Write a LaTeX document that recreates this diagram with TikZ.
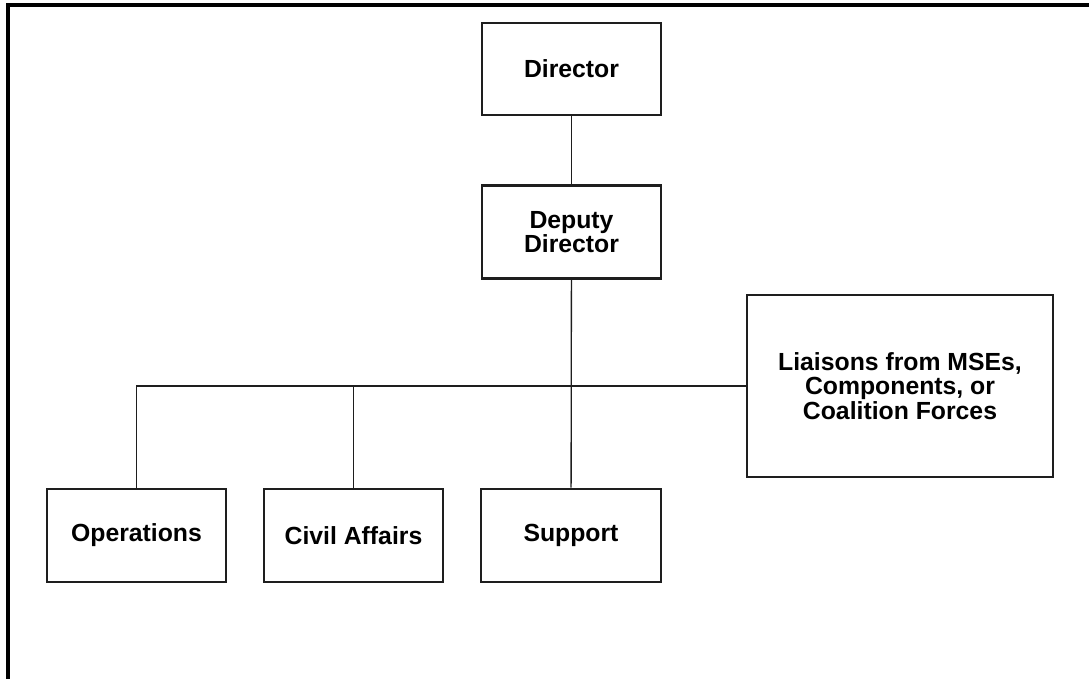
\documentclass[tikz,border=0pt]{standalone}
\usepackage{fontspec}
\setmainfont{Liberation Sans}
\usetikzlibrary{calc, positioning}

\begin{document}
\begin{tikzpicture}[x=0.02cm, y=-0.02cm]
    % Define colours and styles
    \definecolor{borderColour}{HTML}{1E1E1E}
    \tikzset{
        orgbox/.style={draw=borderColour, line width=1.5pt, fill=white, inner sep=0pt,
            align=center, font=\fontsize{14.1}{14}\selectfont\bfseries},
        link/.style={draw=borderColour, line width=0.75pt}
    }

    % Fix page size
    \useasboundingbox (0,0) rectangle (1089,679);

    % Draw frame (top and left only)
    \draw[line width=2pt] (1089,5) -- (8,5) -- (8,679);

    % Draw the boxes
    \node[orgbox, minimum width=179*0.02cm, minimum height=92*0.02cm] (director) at (571.5,69) {Director};
    \node[orgbox, minimum width=179*0.02cm, minimum height=93*0.02cm] (deputy) at (571.5,232) {Deputy\\Director};
    \node[orgbox, minimum width=306*0.02cm, minimum height=182*0.02cm] (liaisons) at (900,386) {Liaisons from MSEs,\\Components, or\\Coalition Forces};
    \node[orgbox, minimum width=179*0.02cm, minimum height=93*0.02cm] (operations) at (136.5,535.5) {Operations};
    \node[orgbox, minimum width=179*0.02cm, minimum height=93*0.02cm] (civil) at (353.5,535.5) {Civil Affairs};
    \node[orgbox, minimum width=180*0.02cm, minimum height=93*0.02cm] (support) at (571,535.5) {Support};

    % Draw connectors
    \draw[link] (director) -- (deputy);
    \draw[link] (deputy) -- (support);
    \draw[link] (operations.north) |- (liaisons.west);
    \draw[link] (civil.north) -- (civil.north |- liaisons.west);

\end{tikzpicture}
\end{document}
